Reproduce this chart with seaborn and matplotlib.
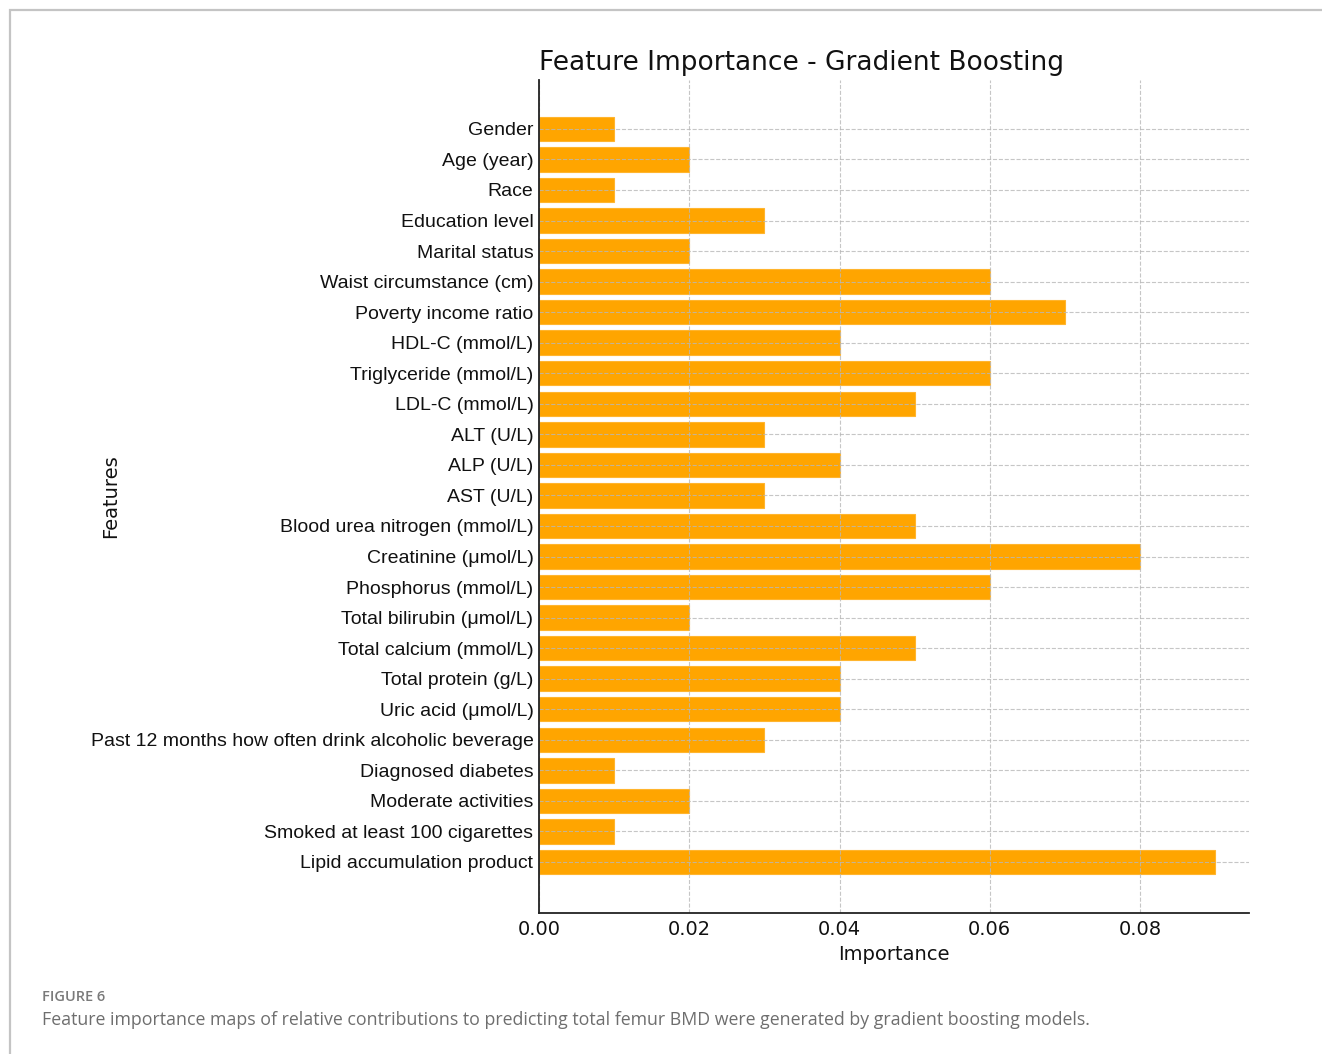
import matplotlib
matplotlib.use("Agg")
import matplotlib.pyplot as plt
import seaborn as sns
import pandas as pd
from matplotlib.patches import Rectangle

features = [
    "Gender", "Age (year)", "Race", "Education level", "Marital status",
    "Waist circumstance (cm)", "Poverty income ratio", "HDL-C (mmol/L)",
    "Triglyceride (mmol/L)", "LDL-C (mmol/L)", "ALT (U/L)", "ALP (U/L)",
    "AST (U/L)", "Blood urea nitrogen (mmol/L)", "Creatinine (μmol/L)",
    "Phosphorus (mmol/L)", "Total bilirubin (μmol/L)", "Total calcium (mmol/L)",
    "Total protein (g/L)", "Uric acid (μmol/L)",
    "Past 12 months how often drink alcoholic beverage", "Diagnosed diabetes",
    "Moderate activities", "Smoked at least 100 cigarettes",
    "Lipid accumulation product",
]
importance = [
    0.01, 0.02, 0.01, 0.03, 0.02,
    0.06, 0.07, 0.04,
    0.06, 0.05, 0.03, 0.04,
    0.03, 0.05, 0.08,
    0.06, 0.02, 0.05,
    0.04, 0.04,
    0.03, 0.01,
    0.02, 0.01,
    0.09,
]
x_ticks = [0.00, 0.02, 0.04, 0.06, 0.08]

df = pd.DataFrame({"Feature": features, "Importance": importance})

sns.set_style("white")
plt.rcParams["font.family"] = ["DejaVu Sans"]

fig = plt.figure(figsize=(13.22, 10.54), dpi=100)
ax = fig.add_axes([539 / 1322, 1 - 913 / 1054, (1249 - 539) / 1322, (913 - 80) / 1054])

sns.barplot(data=df, x="Importance", y="Feature", orient="h", color="#FFA500",
            saturation=1, width=0.8, edgecolor="#FFB52E", linewidth=0.8, ax=ax)

ax.set_xlim(0, 0.0945)
ax.set_ylim(len(features) - 1 + 1.67, -1.6)
ax.set_xticks(x_ticks)
ax.set_xticklabels([f"{t:.2f}" for t in x_ticks])

ax.set_axisbelow(False)
ax.grid(True, axis="both", linestyle="--", color="#b8b8b8", linewidth=0.8, alpha=0.8)

for side in ("top", "right"):
    ax.spines[side].set_visible(False)
for side in ("left", "bottom"):
    ax.spines[side].set_color("#222222")
    ax.spines[side].set_linewidth(1.3)
    ax.spines[side].set_zorder(4)

ax.tick_params(axis="x", direction="in", length=4, width=1, colors="#222222",
               labelsize=14, labelcolor="#111111", pad=5)
ax.tick_params(axis="y", direction="in", length=4, width=1, colors="#222222",
               labelsize=14, labelcolor="#111111", pad=4)
for lbl in ax.get_yticklabels():
    lbl.set_fontfamily("Liberation Sans")

ax.set_xlabel("Importance", fontsize=14, color="#111111", labelpad=4)
ax.set_ylabel("Features", fontsize=14, color="#111111")
ax.yaxis.set_label_coords((120 - 539) / 710, 0.5)
ax.set_title("Feature Importance - Gradient Boosting", fontsize=19,
             color="#111111", pad=7, loc="left")

# Page frame around the figure panel
frame = Rectangle((10 / 1322, -0.05), 1.2, 1 - 10 / 1054 + 0.05,
                  transform=fig.transFigure, fill=False,
                  edgecolor="#c4c4c4", linewidth=1.6, clip_on=False)
fig.add_artist(frame)

fig.text(42 / 1322, 1 - 997 / 1054, "FIGURE 6", fontsize=10.5, color="#7a7a7a",
         fontfamily="Open Sans", fontweight="semibold", va="center", ha="left")
fig.text(42 / 1322, 1 - 1020 / 1054,
         "Feature importance maps of relative contributions to predicting total "
         "femur BMD were generated by gradient boosting models.",
         fontsize=12.8, color="#6e6e6e", fontfamily="Open Sans",
         va="center", ha="left")

fig.savefig("out.png", dpi=100, facecolor="white")
